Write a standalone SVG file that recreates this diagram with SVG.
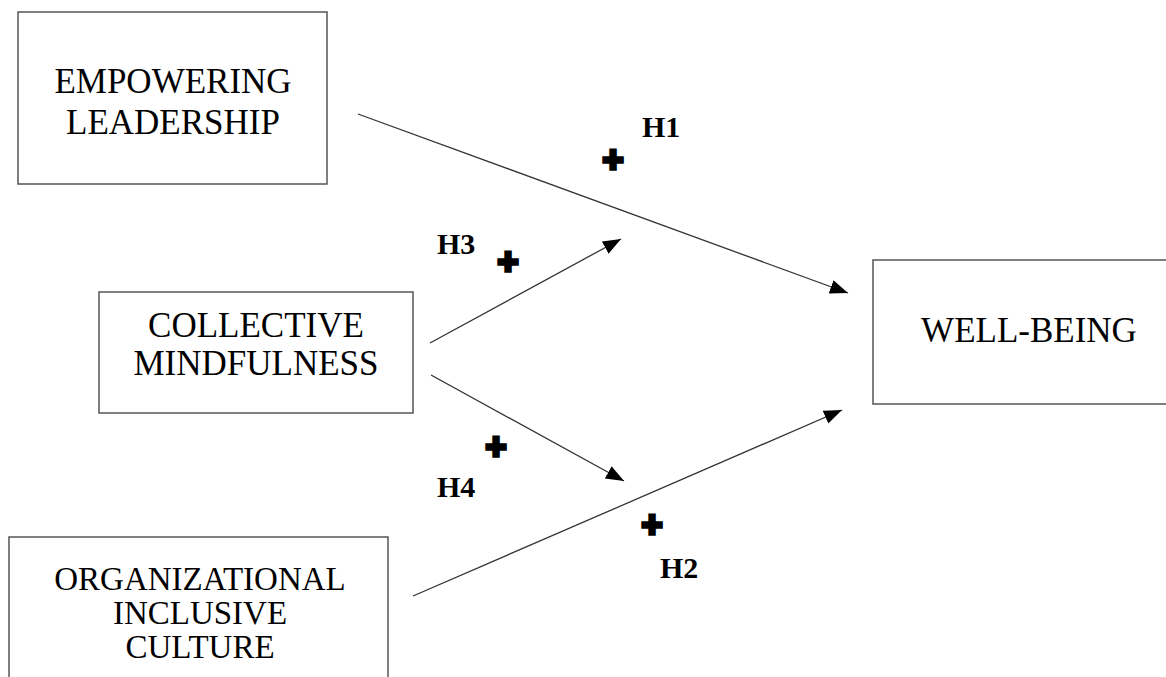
<svg xmlns="http://www.w3.org/2000/svg" width="1166" height="677" viewBox="0 0 1166 677">
  <defs>
    <marker id="arrow" markerUnits="userSpaceOnUse" markerWidth="20" markerHeight="16" refX="18" refY="7" orient="auto">
      <path d="M0,0 L18,7 L0,14 z" fill="#000"/>
    </marker>
    <style>
      .box { fill: #fff; stroke: #555; stroke-width: 1.5; }
      .lbl { font-family: "Liberation Serif", "Times New Roman", serif; font-size: 35px; fill: #000; text-anchor: middle; }
      .lbl.tight { font-size: 33px; }
      .h { font-family: "Liberation Serif", "Times New Roman", serif; font-size: 30px; font-weight: bold; fill: #000; }
      .plus { font-family: "Liberation Sans", Arial, sans-serif; font-size: 36px; font-weight: bold; fill: #000; stroke: #000; stroke-width: 3.5; text-anchor: middle; }
      .conn { stroke: #333; stroke-width: 1.3; fill: none; marker-end: url(#arrow); }
    </style>
  </defs>
  <rect width="1166" height="677" fill="#fff"/>

  <g id="connectors">
    <line class="conn" x1="358" y1="114" x2="848" y2="293"/>
    <line class="conn" x1="430" y1="343" x2="621" y2="239"/>
    <line class="conn" x1="431" y1="375" x2="624" y2="481"/>
    <line class="conn" x1="413" y1="596" x2="842" y2="410"/>
  </g>

  <g id="empowering-leadership">
    <rect class="box" x="18" y="12" width="309" height="172"/>
    <text class="lbl" x="173" y="93">EMPOWERING</text>
    <text class="lbl" x="173" y="134">LEADERSHIP</text>
  </g>

  <g id="collective-mindfulness">
    <rect class="box" x="99" y="292" width="314" height="121"/>
    <text class="lbl" x="256" y="337">COLLECTIVE</text>
    <text class="lbl" x="256" y="375">MINDFULNESS</text>
  </g>

  <g id="organizational-inclusive-culture">
    <rect class="box" x="9" y="537" width="379" height="160"/>
    <text class="lbl tight" x="200" y="590">ORGANIZATIONAL</text>
    <text class="lbl tight" x="200" y="624">INCLUSIVE</text>
    <text class="lbl tight" x="200" y="658">CULTURE</text>
  </g>

  <g id="well-being">
    <rect class="box" x="873" y="260" width="310" height="144"/>
    <text class="lbl" x="1029" y="342">WELL-BEING</text>
  </g>

  <g id="labels">
    <text class="h" x="642" y="137">H1</text>
    <text class="plus" x="613" y="172">+</text>
    <text class="h" x="437" y="254">H3</text>
    <text class="plus" x="508" y="274">+</text>
    <text class="h" x="437" y="497">H4</text>
    <text class="plus" x="496" y="459">+</text>
    <text class="h" x="660" y="578">H2</text>
    <text class="plus" x="652" y="537">+</text>
  </g>
</svg>
